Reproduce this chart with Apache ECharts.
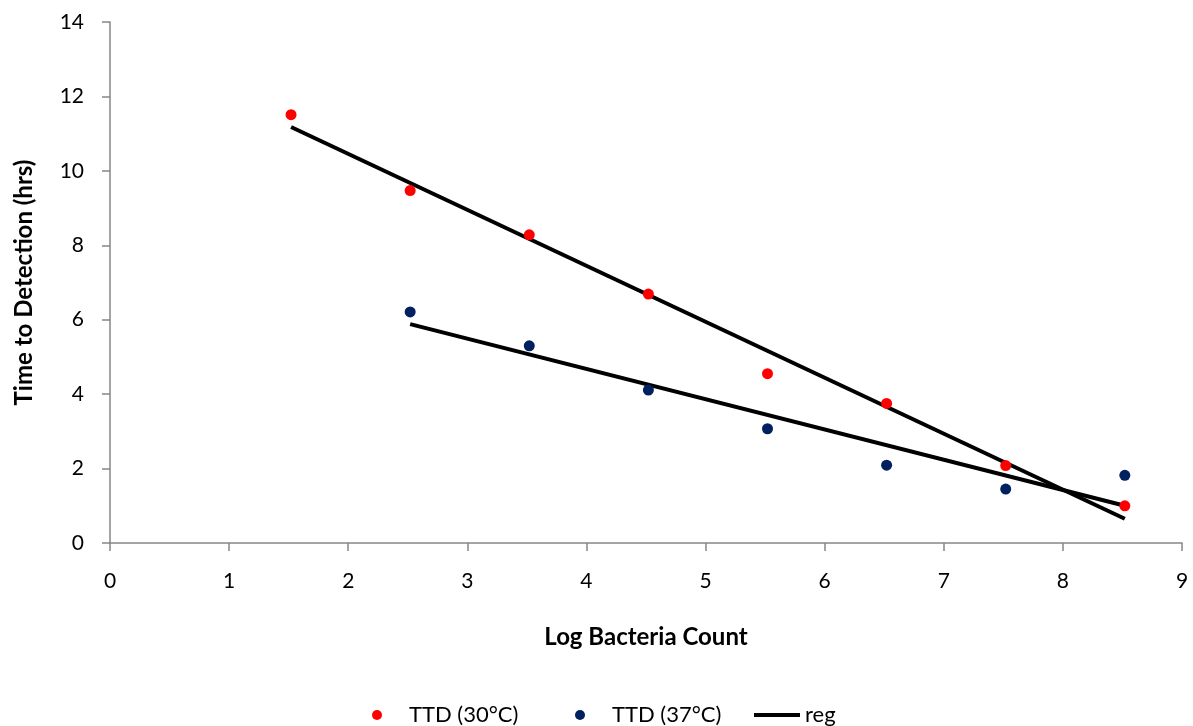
<!DOCTYPE html>
<html>
<head>
<meta charset="utf-8">
<script src="https://cdn.jsdelivr.net/npm/echarts@6/dist/echarts.min.js"></script>
<style>
  html, body { margin: 0; padding: 0; background: #fff; }
  #chart { width: 1193px; height: 726px; }
</style>
</head>
<body>
<div id="chart"></div>
<script>
// Log bacteria counts and time-to-detection readings
const logCount30 = [1.52, 2.52, 3.52, 4.52, 5.52, 6.52, 7.52, 8.52];
const ttd30 = [11.51, 9.47, 8.28, 6.69, 4.55, 3.75, 2.08, 1.00];
const logCount37 = [2.52, 3.52, 4.52, 5.52, 6.52, 7.52, 8.52];
const ttd37 = [6.21, 5.30, 4.11, 3.07, 2.09, 1.45, 1.82];

// Regression line end points
const reg30X = [1.52, 8.52];
const reg30Y = [11.18, 0.65];
const reg37X = [2.52, 8.52];
const reg37Y = [5.88, 1.00];

const seriesNames = ['TTD (30°C)', 'TTD (37°C)', 'reg'];

const pairs = (xs, ys) => xs.map((x, i) => [x, ys[i]]);
const FONT = 'Lato, "Open Sans", sans-serif';
const AXIS_GREY = '#868686';
const LEGEND_TOP = 699;
const LEGEND_FONT = 22;

// A dot legend entry with extra room between the dot and its label
function dotLegend(name, left) {
  return {
    data: [{ name: name, icon: 'circle' }],
    top: LEGEND_TOP,
    left: left,
    itemWidth: 10,
    itemHeight: 10,
    formatter: function (n) { return '{gap|}' + n; },
    textStyle: {
      fontFamily: FONT, fontSize: LEGEND_FONT, color: '#000',
      rich: { gap: { width: 22 } }
    }
  };
}

const chart = echarts.init(document.getElementById('chart'), null, { renderer: 'canvas' });
chart.setOption({
  backgroundColor: '#ffffff',
  animation: false,
  textStyle: { fontFamily: FONT, color: '#000' },
  grid: { left: 110, right: 11, top: 22, bottom: 183, containLabel: false },
  xAxis: {
    type: 'value',
    min: 0, max: 9, interval: 1,
    name: 'Log Bacteria Count',
    nameLocation: 'middle',
    nameGap: 82,
    nameTextStyle: { fontFamily: FONT, fontSize: 24, fontWeight: 'bold', color: '#000' },
    axisLine: { show: true, lineStyle: { color: AXIS_GREY, width: 1.5 } },
    axisTick: { show: true, inside: false, length: 8, lineStyle: { color: AXIS_GREY, width: 1.5 } },
    axisLabel: { fontFamily: FONT, fontSize: 21, color: '#000', margin: 28 },
    splitLine: { show: false }
  },
  yAxis: {
    type: 'value',
    min: 0, max: 14, interval: 2,
    name: 'Time to Detection (hrs)',
    nameLocation: 'middle',
    nameGap: 74,
    nameRotate: 90,
    nameTextStyle: { fontFamily: FONT, fontSize: 24, fontWeight: 'bold', color: '#000' },
    axisLine: { show: true, lineStyle: { color: AXIS_GREY, width: 1.5 } },
    axisTick: { show: true, inside: false, length: 8, lineStyle: { color: AXIS_GREY, width: 1.5 } },
    axisLabel: { fontFamily: FONT, fontSize: 21, color: '#000', margin: 26 },
    splitLine: { show: false }
  },
  legend: [
    dotLegend(seriesNames[0], 367),
    dotLegend(seriesNames[1], 570),
    {
      data: [{ name: seriesNames[2], icon: 'rect' }],
      top: LEGEND_TOP, left: 749,
      itemWidth: 46, itemHeight: 4,
      textStyle: { fontFamily: FONT, fontSize: LEGEND_FONT, color: '#000' }
    }
  ],
  series: [
    {
      name: seriesNames[0],
      type: 'scatter',
      symbol: 'circle',
      symbolSize: 11,
      itemStyle: { color: '#FF0000', opacity: 1 },
      data: pairs(logCount30, ttd30),
      z: 3
    },
    {
      name: seriesNames[1],
      type: 'scatter',
      symbol: 'circle',
      symbolSize: 11,
      itemStyle: { color: '#002060', opacity: 1 },
      data: pairs(logCount37, ttd37),
      z: 3
    },
    {
      name: seriesNames[2],
      type: 'line',
      showSymbol: false,
      symbol: 'none',
      lineStyle: { color: '#000', width: 4 },
      itemStyle: { color: '#000' },
      data: pairs(reg30X, reg30Y),
      z: 2
    },
    {
      name: seriesNames[2],
      type: 'line',
      showSymbol: false,
      symbol: 'none',
      lineStyle: { color: '#000', width: 4 },
      itemStyle: { color: '#000' },
      data: pairs(reg37X, reg37Y),
      z: 2
    }
  ]
});
</script>
</body>
</html>
